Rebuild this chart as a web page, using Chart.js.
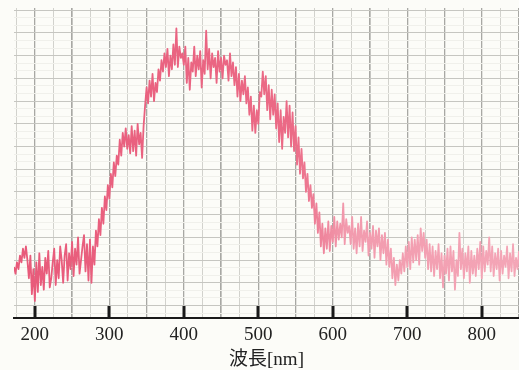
<!DOCTYPE html>
<html>
<head>
<meta charset="utf-8">
<script src="https://cdn.jsdelivr.net/npm/chart.js@4.4.1/dist/chart.umd.min.js"></script>
<style>
  html, body { margin: 0; padding: 0; background: #fcfcf8; }
  canvas { display: block; }
</style>
</head>
<body>
<canvas id="spectrum" width="519" height="370"></canvas>
<script>
//
// Spectrum chart
//

// sample wavelengths: 172 nm .. 850 nm every 2 nm
var wavelengthStart = 172;
var wavelengthStep = 2;

// trace values (1 unit = one horizontal grid line)
var intensity = [
	1.7, 1.4, 1.9, 1.6, 2.2, 1.9, 2.5, 2.1, 2.6, 2.0,
	1.2, 2.2, 0.5, 1.6, 0.2, 1.9, 0.6, 2.3, 0.9, 1.7,
	0.7, 2.1, 1.4, 2.4, 0.8, 1.2, 1.9, 2.5, 0.9, 2.0,
	1.2, 2.6, 2.0, 1.0, 2.2, 2.7, 1.1, 2.3, 1.6, 2.8,
	1.3, 2.5, 1.8, 3.0, 1.4, 2.0, 2.6, 3.1, 1.5, 2.7,
	1.1, 2.9, 1.0, 2.6, 1.8, 3.3, 2.6, 3.8, 3.1, 4.3,
	3.6, 4.8, 4.2, 5.3, 4.7, 5.8, 5.2, 6.3, 5.7, 6.6,
	6.2, 7.3, 6.6, 7.6, 7.0, 7.8, 6.9, 7.5, 6.7, 7.9,
	6.8, 7.7, 6.6, 8.0, 7.1, 7.6, 6.5, 7.9, 8.8, 9.6,
	8.9, 9.9, 9.2, 10.2, 9.0, 9.8, 9.4, 10.4, 9.9, 10.8,
	10.3, 11.1, 10.5, 11.3, 10.1, 11.0, 10.4, 11.5, 10.6, 12.2,
	10.5, 11.4, 10.9, 11.1, 10.6, 11.4, 9.8, 10.9, 9.5, 10.7,
	10.3, 11.4, 10.1, 11.0, 10.4, 11.2, 9.6, 10.8, 10.2, 12.1,
	10.4, 11.3, 10.0, 11.1, 10.5, 10.9, 9.8, 11.2, 10.3, 10.9,
	10.0, 11.0, 10.6, 10.8, 9.9, 11.1, 10.1, 10.7, 9.7, 10.5,
	9.2, 10.2, 9.0, 9.9, 9.3, 10.1, 8.9, 9.6, 8.4, 9.2,
	7.7, 8.8, 7.6, 8.6, 8.0, 9.4, 9.2, 10.3, 9.3, 10.1,
	8.6, 9.7, 8.2, 9.5, 8.4, 9.3, 7.8, 8.9, 7.2, 8.6,
	6.9, 8.3, 7.6, 9.0, 7.4, 8.8, 7.0, 8.5, 6.8, 7.9,
	6.2, 7.4, 5.8, 6.9, 5.6, 6.3, 5.0, 5.8, 4.6, 5.3,
	4.3, 4.9, 3.6, 4.5, 3.2, 4.1, 2.6, 3.6, 2.3, 3.4,
	2.5, 3.7, 2.4, 3.5, 2.8, 3.9, 2.6, 3.7, 2.9, 3.6,
	3.0, 4.5, 2.7, 3.8, 3.2, 3.5, 2.7, 3.9, 2.5, 3.4,
	2.3, 3.6, 2.6, 3.9, 2.4, 3.3, 2.8, 3.7, 2.2, 3.2,
	2.5, 3.5, 2.1, 3.3, 2.6, 3.4, 2.0, 3.1, 2.3, 3.2,
	1.8, 2.9, 1.7, 2.5, 1.2, 2.1, 0.9, 1.8, 1.1, 2.0,
	1.4, 2.3, 1.5, 2.6, 1.7, 2.8, 1.6, 3.0, 1.9, 2.9,
	2.0, 3.1, 1.8, 3.4, 2.4, 3.2, 2.1, 2.9, 1.6, 2.7,
	1.5, 2.6, 1.3, 2.4, 1.6, 2.7, 1.2, 2.3, 0.8, 2.2,
	1.4, 2.5, 1.1, 2.6, 1.5, 2.4, 0.7, 2.0, 1.3, 3.2,
	1.6, 2.5, 1.2, 2.3, 1.5, 2.6, 1.0, 2.4, 1.4, 2.2,
	1.3, 2.5, 1.6, 2.8, 1.2, 2.6, 1.5, 2.4, 1.8, 3.0,
	1.5, 2.6, 1.3, 2.3, 1.6, 2.5, 1.1, 2.4, 1.4, 2.2,
	1.7, 2.6, 1.2, 2.3, 1.5, 2.7, 1.3, 2.1, 1.6, 2.4
];

var xTickLabels = [200, 300, 400, 500, 600, 700, 800];
var axisTitle = '波長[nm]';

var serifFont = '"Liberation Serif", "Noto Sans CJK JP", serif';

// Build points
var points = intensity.map(function(v, i) {
	return { x: wavelengthStart + i * wavelengthStep, y: v };
});

// fixed tick positions for the grid lines
function fixedTicks(from, to, step) {
	return function(scale) {
		var t = [];
		for (var v = from; v <= to + 1e-9; v += step) t.push({ value: v });
		scale.ticks = t;
	};
}

// pin a scale's size so the plot area lines up with the scan
function fixSize(w, h) {
	return function(scale) {
		if (w !== null) scale.width = w;
		if (h !== null) scale.height = h;
		scale.paddingLeft = scale.paddingRight = 0;
		scale.paddingTop = scale.paddingBottom = 0;
	};
}

// Black marks at the labelled wavelengths, standing on the axis
var axisMarks = {
	id: 'axisMarks',
	afterDraw: function(chart) {
		var ctx = chart.ctx, x = chart.scales.x, area = chart.chartArea;
		ctx.save();
		ctx.fillStyle = '#1a1a1a';
		xTickLabels.forEach(function(v) {
			var px = x.getPixelForValue(v);
			ctx.fillRect(Math.round(px) - 1.5, area.bottom - 12, 3, 12);
		});
		ctx.restore();
	}
};

var chart = new Chart(document.getElementById('spectrum'), {
	type: 'line',
	data: {
		datasets: [{
			data: points,
			borderWidth: 1.8,
			borderJoinStyle: 'round',
			pointRadius: 0,
			tension: 0,
			borderColor: function(c) {
				var area = c.chart.chartArea;
				if (!area) return '#e8607c';
				var g = c.chart.ctx.createLinearGradient(area.left, 0, area.right, 0);
				g.addColorStop(0, '#e85a7a');
				g.addColorStop(0.55, '#eb6a86');
				g.addColorStop(0.66, '#f29bae');
				g.addColorStop(1, '#f4a6b7');
				return g;
			}
		}]
	},
	options: {
		responsive: false,
		animation: false,
		devicePixelRatio: 1,
		layout: { padding: { left: 14, top: 8, right: 0, bottom: 0 } },
		plugins: { legend: { display: false }, tooltip: { enabled: false } },
		scales: {
			xMinor: {
				type: 'linear', min: 172, max: 850, position: 'bottom',
				afterBuildTicks: fixedTicks(175, 850, 25),
				afterFit: fixSize(null, 0),
				ticks: { display: false },
				border: { display: false },
				grid: { color: '#d2d2cd', lineWidth: 1, drawTicks: false }
			},
			x: {
				type: 'linear', min: 172, max: 850, position: 'bottom',
				afterBuildTicks: fixedTicks(200, 850, 50),
				afterFit: fixSize(null, 52),
				ticks: {
					color: '#222',
					font: { family: serifFont, size: 19, lineHeight: 1.0 },
					padding: 8,
					maxRotation: 0,
					autoSkip: false,
					callback: function(v) { return xTickLabels.indexOf(v) >= 0 ? v : ''; }
				},
				border: { display: true, color: '#1a1a1a', width: 2 },
				grid: { color: '#a8a8a4', lineWidth: 1.3, drawTicks: false },
				title: {
					display: true, text: axisTitle, color: '#222',
					font: { family: serifFont, size: 19, lineHeight: 1.0 },
					padding: { top: 4, bottom: 0 }
				}
			},
			yMinor: {
				type: 'linear', min: -0.55, max: 13.1, position: 'left',
				afterBuildTicks: fixedTicks(-1 / 3, 13, 1 / 3),
				afterFit: fixSize(0, null),
				ticks: { display: false },
				border: { display: false },
				grid: { color: '#f0f0eb', lineWidth: 1, drawTicks: false }
			},
			y: {
				type: 'linear', min: -0.55, max: 13.1, position: 'left',
				afterBuildTicks: fixedTicks(0, 13, 1),
				afterFit: fixSize(0, null),
				ticks: { display: false },
				border: { display: false },
				grid: { color: '#c6c6c1', lineWidth: 1, drawTicks: false }
			}
		}
	},
	plugins: [axisMarks]
});
</script>
</body>
</html>
